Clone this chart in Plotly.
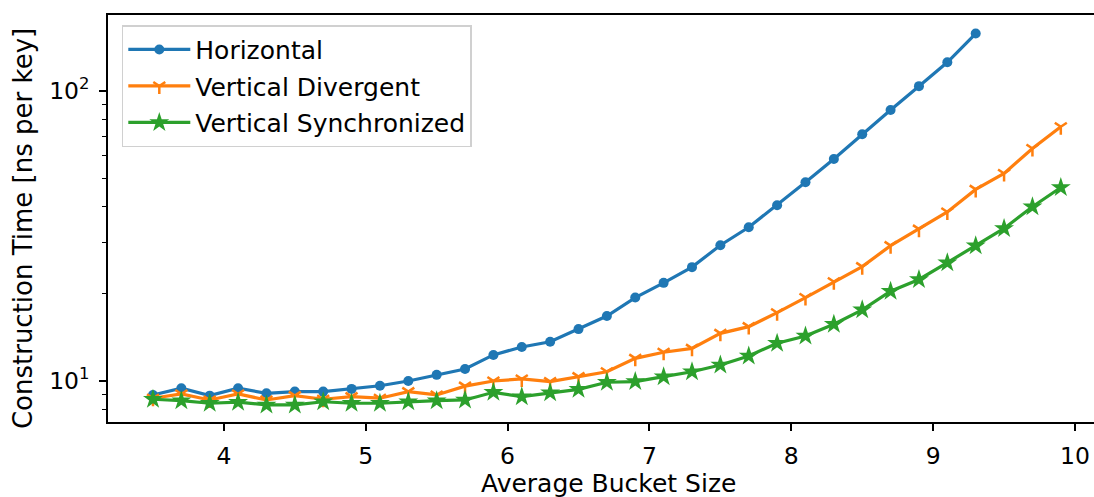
import plotly.graph_objects as go

# Average bucket size sweep
bucket_size = [3.5, 3.7, 3.9, 4.1, 4.3, 4.5, 4.7, 4.9, 5.1, 5.3, 5.5, 5.7, 5.9, 6.1, 6.3,
               6.5, 6.7, 6.9, 7.1, 7.3, 7.5, 7.7, 7.9, 8.1, 8.3, 8.5, 8.7, 8.9, 9.1, 9.3,
               9.5, 9.7, 9.9]

# Construction time in ns per key
horizontal = [8.95, 9.44, 8.9, 9.44, 9.07, 9.19, 9.19, 9.39, 9.63, 10.0, 10.5, 11.0,
              12.3, 13.1, 13.65, 15.1, 16.75, 19.4, 21.8, 24.7, 29.4, 33.9, 40.4, 48.5,
              58.3, 71.0, 86.0, 104.0, 125.7, 158.0]
vertical_divergent = [8.72, 9.02, 8.6, 9.02, 8.6, 8.9, 8.65, 8.83, 8.72, 9.19, 8.95, 9.6,
                      10.0, 10.16, 9.95, 10.35, 10.76, 11.97, 12.56, 12.96, 14.6, 15.4,
                      17.2, 19.4, 22.0, 24.8, 29.3, 33.4, 38.3, 45.8, 52.0, 63.4, 75.3]
vertical_synchronized = [8.65, 8.55, 8.38, 8.45, 8.27, 8.27, 8.48, 8.38, 8.38, 8.48, 8.55,
                         8.6, 9.14, 8.83, 9.11, 9.36, 9.9, 9.95, 10.35, 10.76, 11.35, 12.2,
                         13.5, 14.3, 15.7, 17.6, 20.4, 22.4, 25.6, 29.3, 33.6, 39.9, 46.5]

x_ticks = [4, 5, 6, 7, 8, 9, 10]
y_ticks = [10, 100]
y_tick_text = ["10<sup>1</sup>", "10<sup>2</sup>"]
y_minor = [8, 9, 20, 30, 40, 50, 60, 70, 80, 90]

x_title = "Average Bucket Size"
y_title = "Construction Time [ns per key]"

BLUE, ORANGE, GREEN = "#1f77b4", "#ff7f0e", "#2ca02c"
FONT = "DejaVu Sans"
FS = 25

fig = go.Figure()
fig.add_trace(go.Scatter(
    x=bucket_size[:len(horizontal)], y=horizontal, name="Horizontal",
    legendgroup="h", mode="lines+markers", line=dict(color=BLUE, width=3.2),
    marker=dict(symbol="circle", size=10, color=BLUE)))
fig.add_trace(go.Scatter(
    x=bucket_size, y=vertical_divergent, name="Vertical Divergent",
    legendgroup="vd", mode="lines+markers", line=dict(color=ORANGE, width=3.2),
    marker=dict(symbol="y-down", size=10, color=ORANGE,
                line=dict(color=ORANGE, width=2.5))))
fig.add_trace(go.Scatter(
    x=bucket_size, y=vertical_synchronized, name="Vertical Synchronized",
    legendgroup="vs", mode="lines+markers", line=dict(color=GREEN, width=3.2),
    marker=dict(symbol="star", size=15, color=GREEN, line=dict(width=0))))

axis_common = dict(
    showline=True, linecolor="black", linewidth=1.5,
    ticks="outside", ticklen=7, tickwidth=1.5, tickcolor="black",
    showgrid=False, zeroline=False, automargin=False,
    tickfont=dict(family=FONT, size=FS - 1.5, color="black"),
)

# the axes box runs past the right edge of the canvas, so only the top spine is mirrored
fig.update_xaxes(range=[3.183, 10.134], tickvals=x_ticks, ticklabelstandoff=5,
                 mirror=True, **axis_common)
fig.update_yaxes(type="log", range=[0.8585, 2.2625], tickvals=y_ticks,
                 ticktext=y_tick_text, ticklabelstandoff=5, mirror=False,
                 minor=dict(tickvals=y_minor, ticks="outside", ticklen=4, tickwidth=1.2,
                            tickcolor="black", showgrid=False),
                 **axis_common)

fig.add_annotation(text=x_title, xref="paper", yref="paper", x=0.5071, y=-0.152,
                   xanchor="center", yanchor="middle", showarrow=False,
                   font=dict(family=FONT, size=FS, color="black"))
fig.add_annotation(text=y_title, xref="paper", yref="paper", x=-0.0862, y=0.474,
                   xanchor="center", yanchor="middle", textangle=-90, showarrow=False,
                   font=dict(family=FONT, size=FS + 1, color="black"))

fig.update_layout(
    width=1094, height=497,
    margin=dict(l=108, r=0, t=15, b=75),
    paper_bgcolor="white", plot_bgcolor="white",
    showlegend=True,
    legend=dict(x=0.014, y=0.975, xanchor="left", yanchor="top",
                bgcolor="rgba(255,255,255,0.8)", bordercolor="#d0d0d0", borderwidth=1.5,
                font=dict(family=FONT, size=FS, color="black"),
                itemwidth=62, tracegroupgap=1),
)

fig.write_html("out.html")
